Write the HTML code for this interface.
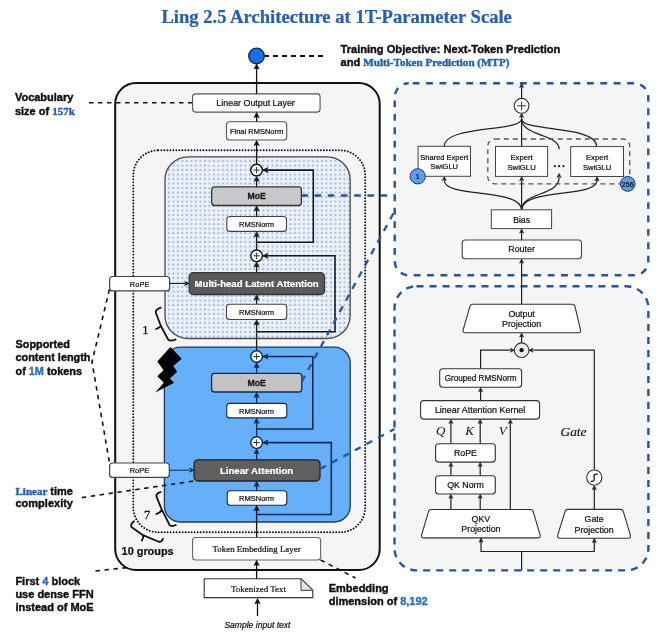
<!DOCTYPE html><html><head><meta charset="utf-8"><style>html,body{margin:0;padding:0;background:#fff;}svg{display:block;will-change:transform;}</style></head><body>
<svg width="660" height="638" viewBox="0 0 660 638">
<defs><pattern id="dots" x="168.9" y="161.1" width="4.5" height="4.5" patternUnits="userSpaceOnUse"><rect width="4.5" height="4.5" fill="#e8f1fc"/><circle cx="0" cy="0" r="1.05" fill="#a6b5cd"/><circle cx="4.5" cy="0" r="1.05" fill="#a6b5cd"/><circle cx="0" cy="4.5" r="1.05" fill="#a6b5cd"/><circle cx="4.5" cy="4.5" r="1.05" fill="#a6b5cd"/></pattern></defs>
<style>text{stroke-width:0.22px;stroke-linejoin:round} text.an{stroke-width:0.42px}</style>
<rect width="660" height="638" fill="#fff"/>
<text x="161.4" y="23" font-family='"Liberation Serif", serif' font-size="18.6" font-weight="bold" font-style="normal" fill="#2360ae" stroke="#2360ae" text-anchor="start" >Ling 2.5 Architecture at 1T-Parameter Scale</text>
<line x1="264" y1="56" x2="323" y2="56" stroke="#111" stroke-width="2" stroke-dasharray="5 4"/>
<circle cx="256.5" cy="56" r="7.8" fill="#1a6fe3" stroke="#0b2450" stroke-width="1.3"/>
<text x="340.5" y="52.5" font-family='"Liberation Sans", sans-serif' font-size="11.1" class="an" font-weight="bold" fill="#111" stroke="#111">Training Objective: Next-Token Prediction</text>
<text x="340.5" y="66" font-family='"Liberation Sans", sans-serif' font-size="11.1" class="an" font-weight="bold" fill="#111" stroke="#111">and <tspan font-family='"Liberation Serif", serif' fill="#2360ae" stroke="#2360ae">Multi-Token Prediction (MTP)</tspan></text>
<rect x="115.2" y="83" width="264.50" height="487.00" rx="21" fill="#f5f5f5" stroke="#111" stroke-width="2" />
<rect x="394.7" y="83.2" width="253.60" height="192.10" rx="14" fill="#f5f5f5" stroke="#25559c" stroke-width="2.4" stroke-dasharray="6.8 6.6" stroke-dashoffset="-4"/>
<rect x="394.5" y="286.2" width="253.90" height="284.20" rx="22" fill="#f5f5f5" stroke="#25559c" stroke-width="2.4" stroke-dasharray="7 6"/>
<text x="14.9" y="100.9" font-family='"Liberation Sans", sans-serif' font-size="11" class="an" font-weight="bold" fill="#111" stroke="#111">Vocabulary</text>
<text x="14.9" y="114.5" font-family='"Liberation Sans", sans-serif' font-size="11" class="an" font-weight="bold" fill="#111" stroke="#111">size of <tspan font-family='"Liberation Serif", serif' fill="#2360ae" stroke="#2360ae">157k</tspan></text>
<line x1="89" y1="102.7" x2="192.6" y2="102.7" stroke="#111" stroke-width="1.6" stroke-dasharray="4.5 4.5"/>
<text x="15.5" y="348.2" font-family='"Liberation Sans", sans-serif' font-size="10.9" class="an" font-weight="bold" fill="#111" stroke="#111">Sopported</text>
<text x="15.5" y="361.3" font-family='"Liberation Sans", sans-serif' font-size="10.9" class="an" font-weight="bold" fill="#111" stroke="#111">content length</text>
<text x="15.5" y="374.5" font-family='"Liberation Sans", sans-serif' font-size="10.9" class="an" font-weight="bold" fill="#111" stroke="#111">of <tspan fill="#2d72c2" stroke="#2d72c2">1M</tspan> tokens</text>
<text x="15.5" y="494.5" font-family='"Liberation Sans", sans-serif' font-size="11" class="an" font-weight="bold" fill="#111" stroke="#111"><tspan font-family='"Liberation Serif", serif' fill="#2360ae" stroke="#2360ae">Linear</tspan> time</text>
<text x="15.5" y="507.3" font-family='"Liberation Sans", sans-serif' font-size="11" class="an" font-weight="bold" fill="#111" stroke="#111">complexity</text>
<text x="15.4" y="584.5" font-family='"Liberation Sans", sans-serif' font-size="11" class="an" font-weight="bold" fill="#111" stroke="#111">First <tspan fill="#2d72c2" stroke="#2d72c2">4</tspan> block</text>
<text x="15.4" y="597.9" font-family='"Liberation Sans", sans-serif' font-size="11" class="an" font-weight="bold" fill="#111" stroke="#111">use dense FFN</text>
<text x="15.4" y="610.7" font-family='"Liberation Sans", sans-serif' font-size="11" class="an" font-weight="bold" fill="#111" stroke="#111">instead of MoE</text>
<text x="328.7" y="591.8" font-family='"Liberation Sans", sans-serif' font-size="11" class="an" font-weight="bold" fill="#111" stroke="#111">Embedding</text>
<text x="328.7" y="604.5" font-family='"Liberation Sans", sans-serif' font-size="11" class="an" font-weight="bold" fill="#111" stroke="#111">dimension of <tspan fill="#2d72c2" stroke="#2d72c2">8,192</tspan></text>
<rect x="133.3" y="150.3" width="231.90" height="382.00" rx="25" fill="none" stroke="#111" stroke-width="1.9" stroke-dasharray="0.01 3" stroke-linecap="round"/>
<rect x="165" y="156.8" width="185.20" height="181.70" rx="23" fill="url(#dots)" stroke="#4a4a4a" stroke-width="1.3" />
<rect x="164.4" y="347.1" width="185.80" height="174.90" rx="16" fill="#66b0fa" stroke="#1d3a66" stroke-width="1.3" />
<rect x="192.6" y="93.9" width="127.50" height="18.20" rx="3" fill="#fff" stroke="#555" stroke-width="1.1" />
<text x="255.6" y="106" font-family='"Liberation Sans", sans-serif' font-size="8.9" font-weight="normal" font-style="normal" fill="#111" stroke="#111" text-anchor="middle" >Linear Output Layer</text>
<rect x="226.5" y="121.8" width="60.20" height="18.20" rx="3" fill="#fff" stroke="#555" stroke-width="1.1" />
<text x="256.6" y="134" font-family='"Liberation Sans", sans-serif' font-size="7.5" font-weight="normal" font-style="normal" fill="#111" stroke="#111" text-anchor="middle" >Final RMSNorm</text>
<line x1="256.6" y1="93.9" x2="256.6" y2="67.53999999999999" stroke="#111" stroke-width="1.3"/>
<polygon points="256.6,63.9 254.00000000000003,69.1 256.6,68.06 259.20000000000005,69.1" fill="#111" stroke="#111" stroke-width="0.6" stroke-linejoin="miter"/>
<line x1="256.6" y1="121.8" x2="256.6" y2="116.04" stroke="#111" stroke-width="1.3"/>
<polygon points="256.6,112.4 254.00000000000003,117.60000000000001 256.6,116.56 259.20000000000005,117.60000000000001" fill="#111" stroke="#111" stroke-width="0.6" stroke-linejoin="miter"/>
<line x1="256.6" y1="164.1" x2="256.6" y2="144.04" stroke="#111" stroke-width="1.3"/>
<polygon points="256.6,140.4 254.00000000000003,145.6 256.6,144.56 259.20000000000005,145.6" fill="#111" stroke="#111" stroke-width="0.6" stroke-linejoin="miter"/>
<rect x="211.7" y="186.8" width="89.70" height="18.70" rx="3" fill="#c9c9c9" stroke="#333" stroke-width="1.3" />
<text x="256.6" y="199.4" font-family='"Liberation Sans", sans-serif' font-size="8.7" font-weight="bold" font-style="normal" fill="#1a1a1a" stroke="#1a1a1a" text-anchor="middle" style="stroke-width:0.3px">MoE</text>
<rect x="226.8" y="216.5" width="59.70" height="14.90" rx="3" fill="#fff" stroke="#444" stroke-width="1.1" />
<text x="256.6" y="226.8" font-family='"Liberation Sans", sans-serif' font-size="7.5" font-weight="normal" font-style="normal" fill="#111" stroke="#111" text-anchor="middle" >RMSNorm</text>
<circle cx="256.6" cy="170.1" r="5.8" fill="#fff" stroke="#111" stroke-width="1.4"/>
<line x1="253.40000000000003" y1="170.1" x2="259.8" y2="170.1" stroke="#333" stroke-width="1.0"/>
<line x1="256.6" y1="166.9" x2="256.6" y2="173.29999999999998" stroke="#333" stroke-width="1.0"/>
<line x1="256.6" y1="186.8" x2="256.6" y2="179.83999999999997" stroke="#1a1a1a" stroke-width="1.3"/>
<polygon points="256.6,176.2 254.00000000000003,181.39999999999998 256.6,180.35999999999999 259.20000000000005,181.39999999999998" fill="#1a1a1a" stroke="#1a1a1a" stroke-width="0.6" stroke-linejoin="miter"/>
<line x1="256.6" y1="216.5" x2="256.6" y2="209.44" stroke="#1a1a1a" stroke-width="1.3"/>
<polygon points="256.6,205.8 254.00000000000003,211.0 256.6,209.96 259.20000000000005,211.0" fill="#1a1a1a" stroke="#1a1a1a" stroke-width="0.6" stroke-linejoin="miter"/>
<line x1="256.6" y1="249.9" x2="256.6" y2="235.33999999999997" stroke="#1a1a1a" stroke-width="1.3"/>
<polygon points="256.6,231.7 254.00000000000003,236.89999999999998 256.6,235.85999999999999 259.20000000000005,236.89999999999998" fill="#1a1a1a" stroke="#1a1a1a" stroke-width="0.6" stroke-linejoin="miter"/>
<path d="M256.6,242.3 L313.3,242.3 L313.3,170.1 L262.90000000000003,170.1" stroke="#1a1a1a" stroke-width="1.6" fill="none" />
<polygon points="262.70000000000005,170.1 267.90000000000003,167.5 266.86000000000007,170.1 267.90000000000003,172.7" fill="#1a1a1a" stroke="#1a1a1a" stroke-width="0.6" stroke-linejoin="miter"/>
<rect x="189.2" y="272.7" width="135.30" height="21.80" rx="4" fill="#5a5a5a" stroke="#333" stroke-width="1.3" />
<text x="256.6" y="287.1" font-family='"Liberation Sans", sans-serif' font-size="9.65" font-weight="bold" font-style="normal" fill="#fff" stroke="#fff" text-anchor="middle" >Multi-head Latent Attention</text>
<rect x="226.5" y="304.2" width="60.20" height="15.30" rx="3" fill="#fff" stroke="#444" stroke-width="1.1" />
<text x="256.6" y="314.6" font-family='"Liberation Sans", sans-serif' font-size="7.5" font-weight="normal" font-style="normal" fill="#111" stroke="#111" text-anchor="middle" >RMSNorm</text>
<circle cx="256.6" cy="255.8" r="5.8" fill="#fff" stroke="#111" stroke-width="1.4"/>
<line x1="253.40000000000003" y1="255.8" x2="259.8" y2="255.8" stroke="#333" stroke-width="1.0"/>
<line x1="256.6" y1="252.60000000000002" x2="256.6" y2="259.0" stroke="#333" stroke-width="1.0"/>
<line x1="256.6" y1="272.7" x2="256.6" y2="265.53999999999996" stroke="#1a1a1a" stroke-width="1.3"/>
<polygon points="256.6,261.9 254.00000000000003,267.09999999999997 256.6,266.06 259.20000000000005,267.09999999999997" fill="#1a1a1a" stroke="#1a1a1a" stroke-width="0.6" stroke-linejoin="miter"/>
<line x1="256.6" y1="304.2" x2="256.6" y2="298.44" stroke="#1a1a1a" stroke-width="1.3"/>
<polygon points="256.6,294.8 254.00000000000003,300.0 256.6,298.96000000000004 259.20000000000005,300.0" fill="#1a1a1a" stroke="#1a1a1a" stroke-width="0.6" stroke-linejoin="miter"/>
<line x1="256.6" y1="350.3" x2="256.6" y2="323.44" stroke="#1a1a1a" stroke-width="1.3"/>
<polygon points="256.6,319.8 254.00000000000003,325.0 256.6,323.96000000000004 259.20000000000005,325.0" fill="#1a1a1a" stroke="#1a1a1a" stroke-width="0.6" stroke-linejoin="miter"/>
<path d="M256.6,331.7 L335,331.7 L335,255.8 L262.90000000000003,255.8" stroke="#1a1a1a" stroke-width="1.6" fill="none" />
<polygon points="262.70000000000005,255.8 267.90000000000003,253.20000000000002 266.86000000000007,255.8 267.90000000000003,258.40000000000003" fill="#1a1a1a" stroke="#1a1a1a" stroke-width="0.6" stroke-linejoin="miter"/>
<rect x="109.6" y="276.5" width="60.00" height="14.40" rx="3" fill="#fff" stroke="#444" stroke-width="1.2" />
<text x="139.6" y="286.5" font-family='"Liberation Sans", sans-serif' font-size="7.5" font-weight="normal" font-style="normal" fill="#111" stroke="#111" text-anchor="middle" >RoPE</text>
<line x1="169.6" y1="283.5" x2="185" y2="283.5" stroke="#1a1a1a" stroke-width="1"/>
<polygon points="189.2,283.5 184.7,281.4 185.6,283.5 184.7,285.6" fill="#1a1a1a" stroke="#1a1a1a" stroke-width="0.6" stroke-linejoin="miter"/>
<rect x="211.6" y="373.3" width="90.20" height="18.70" rx="3" fill="#c6c2c1" stroke="#0e2a52" stroke-width="1.3" />
<text x="256.6" y="386" font-family='"Liberation Sans", sans-serif' font-size="8.7" font-weight="bold" font-style="normal" fill="#1a1a1a" stroke="#1a1a1a" text-anchor="middle" style="stroke-width:0.3px">MoE</text>
<rect x="226.7" y="403.4" width="60.10" height="14.50" rx="3" fill="#fff" stroke="#0e2a52" stroke-width="1.1" />
<text x="256.6" y="413.6" font-family='"Liberation Sans", sans-serif' font-size="7.5" font-weight="normal" font-style="normal" fill="#111" stroke="#111" text-anchor="middle" >RMSNorm</text>
<circle cx="256.6" cy="356.5" r="5.8" fill="#fff" stroke="#0e2a52" stroke-width="1.4"/>
<line x1="253.40000000000003" y1="356.5" x2="259.8" y2="356.5" stroke="#333" stroke-width="1.0"/>
<line x1="256.6" y1="353.3" x2="256.6" y2="359.7" stroke="#333" stroke-width="1.0"/>
<line x1="256.6" y1="373.3" x2="256.6" y2="366.24" stroke="#0e2a52" stroke-width="1.3"/>
<polygon points="256.6,362.6 254.00000000000003,367.8 256.6,366.76000000000005 259.20000000000005,367.8" fill="#0e2a52" stroke="#0e2a52" stroke-width="0.6" stroke-linejoin="miter"/>
<line x1="256.6" y1="403.4" x2="256.6" y2="395.94" stroke="#0e2a52" stroke-width="1.3"/>
<polygon points="256.6,392.3 254.00000000000003,397.5 256.6,396.46000000000004 259.20000000000005,397.5" fill="#0e2a52" stroke="#0e2a52" stroke-width="0.6" stroke-linejoin="miter"/>
<line x1="256.6" y1="436.5" x2="256.6" y2="421.84" stroke="#0e2a52" stroke-width="1.3"/>
<polygon points="256.6,418.2 254.00000000000003,423.4 256.6,422.36 259.20000000000005,423.4" fill="#0e2a52" stroke="#0e2a52" stroke-width="0.6" stroke-linejoin="miter"/>
<path d="M256.6,429 L312.8,429 L312.8,356.5 L262.90000000000003,356.5" stroke="#0e2a52" stroke-width="1.6" fill="none" />
<polygon points="262.70000000000005,356.5 267.90000000000003,353.9 266.86000000000007,356.5 267.90000000000003,359.1" fill="#0e2a52" stroke="#0e2a52" stroke-width="0.6" stroke-linejoin="miter"/>
<rect x="194.1" y="459.8" width="125.90" height="21.20" rx="4" fill="#5f5f5f" stroke="#222" stroke-width="1.3" />
<text x="256.6" y="474" font-family='"Liberation Sans", sans-serif' font-size="9.6" font-weight="bold" font-style="normal" fill="#fff" stroke="#fff" text-anchor="middle" >Linear Attention</text>
<rect x="227.2" y="490.8" width="59.60" height="14.50" rx="3" fill="#fff" stroke="#0e2a52" stroke-width="1.1" />
<text x="256.6" y="501" font-family='"Liberation Sans", sans-serif' font-size="7.5" font-weight="normal" font-style="normal" fill="#111" stroke="#111" text-anchor="middle" >RMSNorm</text>
<circle cx="256.6" cy="442.6" r="5.8" fill="#fff" stroke="#0e2a52" stroke-width="1.4"/>
<line x1="253.40000000000003" y1="442.6" x2="259.8" y2="442.6" stroke="#333" stroke-width="1.0"/>
<line x1="256.6" y1="439.40000000000003" x2="256.6" y2="445.8" stroke="#333" stroke-width="1.0"/>
<line x1="256.6" y1="459.8" x2="256.6" y2="452.34" stroke="#0e2a52" stroke-width="1.3"/>
<polygon points="256.6,448.7 254.00000000000003,453.9 256.6,452.86 259.20000000000005,453.9" fill="#0e2a52" stroke="#0e2a52" stroke-width="0.6" stroke-linejoin="miter"/>
<line x1="256.6" y1="490.8" x2="256.6" y2="484.94" stroke="#0e2a52" stroke-width="1.3"/>
<polygon points="256.6,481.3 254.00000000000003,486.5 256.6,485.46000000000004 259.20000000000005,486.5" fill="#0e2a52" stroke="#0e2a52" stroke-width="0.6" stroke-linejoin="miter"/>
<line x1="256.6" y1="537.5" x2="256.6" y2="509.24" stroke="#111" stroke-width="1.3"/>
<polygon points="256.6,505.6 254.00000000000003,510.8 256.6,509.76000000000005 259.20000000000005,510.8" fill="#111" stroke="#111" stroke-width="0.6" stroke-linejoin="miter"/>
<path d="M256.6,514.5 L331.3,514.5 L331.3,442.6 L262.90000000000003,442.6" stroke="#0e2a52" stroke-width="1.6" fill="none" />
<polygon points="262.70000000000005,442.6 267.90000000000003,440.0 266.86000000000007,442.6 267.90000000000003,445.20000000000005" fill="#0e2a52" stroke="#0e2a52" stroke-width="0.6" stroke-linejoin="miter"/>
<rect x="109.6" y="463" width="59.70" height="14.40" rx="3" fill="#fff" stroke="#444" stroke-width="1.2" />
<text x="139.5" y="473" font-family='"Liberation Sans", sans-serif' font-size="7.5" font-weight="normal" font-style="normal" fill="#111" stroke="#111" text-anchor="middle" >RoPE</text>
<line x1="169.3" y1="470.2" x2="189" y2="470.2" stroke="#0e2a52" stroke-width="1"/>
<polygon points="194,470.2 189.5,468.09999999999997 190.4,470.2 189.5,472.3" fill="#0e2a52" stroke="#0e2a52" stroke-width="0.6" stroke-linejoin="miter"/>
<rect x="192.6" y="537.5" width="128.00" height="22.50" rx="3" fill="#fff" stroke="#666" stroke-width="1.1" />
<text x="256.6" y="552" font-family='"Liberation Serif", serif' font-size="8.9" font-weight="normal" font-style="normal" fill="#111" stroke="#111" text-anchor="middle" >Token Embedding Layer</text>
<path d="M204.2,578.7 L301,578.7 L312.8,590.3 L312.8,597.6 L204.2,597.6 Z" stroke="#333" stroke-width="1.1" fill="#fff" />
<path d="M301,578.7 L301,590.3 L312.8,590.3 Z" stroke="#333" stroke-width="1.0" fill="#e6e6e6" />
<text x="258.5" y="592" font-family='"Liberation Serif", serif' font-size="8.95" font-weight="normal" font-style="normal" fill="#111" stroke="#111" text-anchor="middle" >Tokenized Text</text>
<line x1="256.6" y1="578.7" x2="256.6" y2="563.9399999999999" stroke="#111" stroke-width="1.3"/>
<polygon points="256.6,560.3 254.00000000000003,565.5 256.6,564.4599999999999 259.20000000000005,565.5" fill="#111" stroke="#111" stroke-width="0.6" stroke-linejoin="miter"/>
<line x1="257.5" y1="616" x2="257.5" y2="602.14" stroke="#111" stroke-width="1.3"/>
<polygon points="257.5,598.5 254.9,603.7 257.5,602.66 260.1,603.7" fill="#111" stroke="#111" stroke-width="0.6" stroke-linejoin="miter"/>
<text x="257.4" y="627.9" font-family='"Liberation Sans", sans-serif' font-size="8.55" font-weight="normal" font-style="italic" fill="#111" stroke="#111" text-anchor="middle" >Sample input text</text>
<polygon points="170.4,347.1 181.7,358.8 173.3,365.9 177.2,371.7 169.8,378.6 174.1,382.7 155.3,392.4 163.8,382.7 157.3,376.2 163.6,370.2 157.3,361.6" fill="#000"/>
<path d="M160.8,307.7 Q155.2,309.6 155.8,312.8 L160.8,325.8 Q160.2,327.6 156,329 M160.8,325.8 L168.2,339.6 Q170.2,341.8 175.6,339.5" stroke="#111" stroke-width="1.8" fill="none" stroke-linecap="round" stroke-linejoin="round"/>
<text x="145.3" y="333.7" font-family='"Liberation Serif", serif' font-size="12.5" font-weight="normal" font-style="normal" fill="#111" stroke="#111" text-anchor="middle" style="stroke-width:0.25px">1</text>
<path d="M160.6,492.1 Q155.8,493.6 156.4,496.4 L161.8,509.7 Q161.2,511.8 156.4,514 M161.8,509.7 L169.6,525 Q171.4,527 175.8,525" stroke="#111" stroke-width="1.8" fill="none" stroke-linecap="round" stroke-linejoin="round"/>
<text x="147" y="518.8" font-family='"Liberation Serif", serif' font-size="12.5" font-weight="normal" font-style="normal" fill="#111" stroke="#111" text-anchor="middle" style="stroke-width:0.3px">7</text>
<path d="M133.9,521.2 Q130.2,524.2 131.4,527 L143,535.2 Q143.8,537.5 141.8,540.6 M143,535.2 L159.4,542 Q161.8,542 163,538.8" stroke="#111" stroke-width="1.8" fill="none" stroke-linecap="round" stroke-linejoin="round"/>
<text x="121.6" y="554.5" font-family='"Liberation Sans", sans-serif' font-size="10.9" font-weight="bold" font-style="normal" fill="#111" stroke="#111" text-anchor="start" >10 groups</text>
<line x1="301.4" y1="195.5" x2="394.7" y2="195.5" stroke="#25559c" stroke-width="2.3" stroke-dasharray="6.6 6.6"/>
<line x1="301.8" y1="381.6" x2="394.7" y2="211" stroke="#25559c" stroke-width="2.3" stroke-dasharray="6.6 6.6"/>
<line x1="320" y1="469" x2="394.5" y2="429" stroke="#25559c" stroke-width="2.3" stroke-dasharray="6.6 6.6"/>
<path d="M444.3,146.3 C444.3,125 521.6,132 521.6,119" stroke="#222" stroke-width="1.2" fill="none" />
<path d="M596.7,146.6 C596.7,125 521.6,132 521.6,119" stroke="#222" stroke-width="1.2" fill="none" />
<path d="M559.2,149.2 C559.2,134 521.6,136 521.6,119" stroke="#222" stroke-width="1.2" fill="none" />
<line x1="521.6" y1="146.4" x2="521.6" y2="117" stroke="#222" stroke-width="1.2"/>
<polygon points="521.6,113.3 519.6,117.3 521.6,116.5 523.6,117.3" fill="#222" stroke="#222" stroke-width="0.6" stroke-linejoin="miter"/>
<circle cx="521.6" cy="105.8" r="7.4" fill="#fff" stroke="#333" stroke-width="1.1"/>
<line x1="517.2" y1="105.8" x2="526.0" y2="105.8" stroke="#333" stroke-width="1.0"/>
<line x1="521.6" y1="101.39999999999999" x2="521.6" y2="110.2" stroke="#333" stroke-width="1.0"/>
<line x1="521.6" y1="98.4" x2="521.6" y2="87" stroke="#222" stroke-width="1.2"/>
<polygon points="521.6,83.4 519.6,87.4 521.6,86.60000000000001 523.6,87.4" fill="#222" stroke="#222" stroke-width="0.6" stroke-linejoin="miter"/>
<rect x="487.8" y="139" width="141.90" height="44.90" rx="7" fill="none" stroke="#555" stroke-width="1.3" stroke-dasharray="5 4"/>
<rect x="418.1" y="146.3" width="52.40" height="30.00" rx="0" fill="#fff" stroke="#444" stroke-width="1.0" />
<text x="444.3" y="160" font-family='"Liberation Sans", sans-serif' font-size="7.5" font-weight="normal" font-style="normal" fill="#111" stroke="#111" text-anchor="middle" >Shared Expert</text>
<text x="444.3" y="169.2" font-family='"Liberation Sans", sans-serif' font-size="7.5" font-weight="normal" font-style="normal" fill="#111" stroke="#111" text-anchor="middle" >SwiGLU</text>
<rect x="495.5" y="146.4" width="52.10" height="30.00" rx="0" fill="#fff" stroke="#444" stroke-width="1.0" />
<text x="521.6" y="160.4" font-family='"Liberation Sans", sans-serif' font-size="7.7" font-weight="normal" font-style="normal" fill="#111" stroke="#111" text-anchor="middle" >Expert</text>
<text x="521.6" y="169.6" font-family='"Liberation Sans", sans-serif' font-size="7.7" font-weight="normal" font-style="normal" fill="#111" stroke="#111" text-anchor="middle" >SwiGLU</text>
<rect x="570.7" y="146.6" width="52.80" height="29.90" rx="0" fill="#fff" stroke="#444" stroke-width="1.0" />
<text x="597.1" y="160.4" font-family='"Liberation Sans", sans-serif' font-size="7.7" font-weight="normal" font-style="normal" fill="#111" stroke="#111" text-anchor="middle" >Expert</text>
<text x="597.1" y="169.6" font-family='"Liberation Sans", sans-serif' font-size="7.7" font-weight="normal" font-style="normal" fill="#111" stroke="#111" text-anchor="middle" >SwiGLU</text>
<circle cx="554.8" cy="166.2" r="1.1" fill="#222"/>
<circle cx="559.1" cy="166.2" r="1.1" fill="#222"/>
<circle cx="563.4" cy="166.2" r="1.1" fill="#222"/>
<circle cx="417.7" cy="176.3" r="7.6" fill="#5ba0e8" stroke="#1a3766" stroke-width="1"/>
<text x="417.7" y="179" font-family='"Liberation Sans", sans-serif' font-size="7" font-weight="normal" font-style="normal" fill="#111" stroke="#111" text-anchor="middle" >1</text>
<circle cx="627.7" cy="183.9" r="7.4" fill="#5ba0e8" stroke="#1a3766" stroke-width="1"/>
<text x="627.7" y="186.6" font-family='"Liberation Sans", sans-serif' font-size="7" font-weight="normal" font-style="normal" fill="#111" stroke="#111" text-anchor="middle" >256</text>
<path d="M521.6,209.8 C521.6,188 444.3,198 444.3,180.5" stroke="#222" stroke-width="1.2" fill="none" />
<polygon points="444.3,176.6 442.3,180.6 444.3,179.79999999999998 446.3,180.6" fill="#222" stroke="#222" stroke-width="0.6" stroke-linejoin="miter"/>
<path d="M521.6,209.8 C521.6,192 559.1,196 559.1,177.5" stroke="#222" stroke-width="1.2" fill="none" />
<polygon points="559.1,173.4 557.1,177.4 559.1,176.6 561.1,177.4" fill="#222" stroke="#222" stroke-width="0.6" stroke-linejoin="miter"/>
<path d="M521.6,209.8 C521.6,188 597,198 597,180.5" stroke="#222" stroke-width="1.2" fill="none" />
<polygon points="597,176.8 595.0,180.8 597,180.0 599.0,180.8" fill="#222" stroke="#222" stroke-width="0.6" stroke-linejoin="miter"/>
<line x1="521.6" y1="209.8" x2="521.6" y2="180.5" stroke="#222" stroke-width="1.2"/>
<polygon points="521.6,176.7 519.6,180.7 521.6,179.89999999999998 523.6,180.7" fill="#222" stroke="#222" stroke-width="0.6" stroke-linejoin="miter"/>
<rect x="491.3" y="209.8" width="60.30" height="18.80" rx="0" fill="#fff" stroke="#444" stroke-width="1.0" />
<text x="521.6" y="222.7" font-family='"Liberation Sans", sans-serif' font-size="8.7" font-weight="normal" font-style="normal" fill="#111" stroke="#111" text-anchor="middle" >Bias</text>
<rect x="462.2" y="240" width="119.30" height="18.80" rx="3" fill="#fff" stroke="#444" stroke-width="1.1" />
<text x="521.6" y="252.3" font-family='"Liberation Sans", sans-serif' font-size="8.9" font-weight="normal" font-style="normal" fill="#111" stroke="#111" text-anchor="middle" >Router</text>
<line x1="521.6" y1="240" x2="521.6" y2="231.70000000000002" stroke="#222" stroke-width="1.2"/>
<polygon points="521.6,228.9 519.6,232.9 521.6,232.1 523.6,232.9" fill="#222" stroke="#222" stroke-width="0.6" stroke-linejoin="miter"/>
<line x1="521.6" y1="304.2" x2="521.6" y2="261.90000000000003" stroke="#222" stroke-width="1.2"/>
<polygon points="521.6,259.1 519.6,263.1 521.6,262.3 523.6,263.1" fill="#222" stroke="#222" stroke-width="0.6" stroke-linejoin="miter"/>
<path d="M472.8,304.2 L572.1,304.2 Q574.6,304.2 575.0,306.7 L580.5999999999999,330.3 Q580.8,332.8 578.3,332.8 L465.3,332.8 Q462.8,332.8 463.0,330.3 L469.90000000000003,306.7 Q470.3,304.2 472.8,304.2 Z" fill="#fff" stroke="#333" stroke-width="1.1"/>
<text x="521.6" y="316.6" font-family='"Liberation Sans", sans-serif' font-size="8.8" font-weight="normal" font-style="normal" fill="#111" stroke="#111" text-anchor="middle" >Output</text>
<text x="521.6" y="326.8" font-family='"Liberation Sans", sans-serif' font-size="8.8" font-weight="normal" font-style="normal" fill="#111" stroke="#111" text-anchor="middle" >Projection</text>
<circle cx="521.6" cy="350.2" r="7.3" fill="#eaeaea" stroke="#333" stroke-width="1.1"/>
<circle cx="521.6" cy="350.2" r="2.1" fill="#111"/>
<line x1="521.6" y1="342.9" x2="521.6" y2="335.90000000000003" stroke="#222" stroke-width="1.2"/>
<polygon points="521.6,333.1 519.6,337.1 521.6,336.3 523.6,337.1" fill="#222" stroke="#222" stroke-width="0.6" stroke-linejoin="miter"/>
<path d="M480.6,368.8 L480.6,350.2 L510,350.2" stroke="#222" stroke-width="1.2" fill="none" />
<polygon points="514.3,350.2 510.29999999999995,348.2 511.09999999999997,350.2 510.29999999999995,352.2" fill="#222" stroke="#222" stroke-width="0.6" stroke-linejoin="miter"/>
<path d="M594.3,469.8 L594.3,350.2 L533.2,350.2" stroke="#222" stroke-width="1.2" fill="none" />
<polygon points="528.9,350.2 532.9,348.2 532.1,350.2 532.9,352.2" fill="#222" stroke="#222" stroke-width="0.6" stroke-linejoin="miter"/>
<rect x="439.7" y="368.8" width="81.90" height="18.50" rx="3" fill="#fff" stroke="#333" stroke-width="1.1" />
<text x="480.6" y="381" font-family='"Liberation Sans", sans-serif' font-size="8.15" font-weight="normal" font-style="normal" fill="#111" stroke="#111" text-anchor="middle" >Grouped RMSNorm</text>
<line x1="480.6" y1="400.6" x2="480.6" y2="390.40000000000003" stroke="#222" stroke-width="1.2"/>
<polygon points="480.6,387.6 478.6,391.6 480.6,390.8 482.6,391.6" fill="#222" stroke="#222" stroke-width="0.6" stroke-linejoin="miter"/>
<rect x="420.6" y="400.6" width="119.00" height="18.50" rx="3" fill="#fff" stroke="#333" stroke-width="1.1" />
<text x="480.1" y="412.7" font-family='"Liberation Sans", sans-serif' font-size="8.95" font-weight="normal" font-style="normal" fill="#111" stroke="#111" text-anchor="middle" >Linear Attention Kernel</text>
<text x="440.8" y="435.2" font-family='"Liberation Serif", serif' font-size="13" font-weight="normal" font-style="italic" fill="#111" stroke="#111" text-anchor="middle" style="stroke-width:0">Q</text>
<text x="469.5" y="435.2" font-family='"Liberation Serif", serif' font-size="13" font-weight="normal" font-style="italic" fill="#111" stroke="#111" text-anchor="middle" style="stroke-width:0">K</text>
<text x="502.8" y="435.2" font-family='"Liberation Serif", serif' font-size="13" font-weight="normal" font-style="italic" fill="#111" stroke="#111" text-anchor="middle" style="stroke-width:0">V</text>
<line x1="450.9" y1="443.8" x2="450.9" y2="422.2" stroke="#222" stroke-width="1.2"/>
<polygon points="450.9,419.4 448.9,423.4 450.9,422.59999999999997 452.9,423.4" fill="#222" stroke="#222" stroke-width="0.6" stroke-linejoin="miter"/>
<line x1="480.2" y1="443.8" x2="480.2" y2="422.2" stroke="#222" stroke-width="1.2"/>
<polygon points="480.2,419.4 478.2,423.4 480.2,422.59999999999997 482.2,423.4" fill="#222" stroke="#222" stroke-width="0.6" stroke-linejoin="miter"/>
<line x1="510.3" y1="509.5" x2="510.3" y2="422.2" stroke="#222" stroke-width="1.2"/>
<polygon points="510.3,419.4 508.3,423.4 510.3,422.59999999999997 512.3,423.4" fill="#222" stroke="#222" stroke-width="0.6" stroke-linejoin="miter"/>
<rect x="435.6" y="443.8" width="59.70" height="18.30" rx="3" fill="#fff" stroke="#333" stroke-width="1.1" />
<text x="465.5" y="456.2" font-family='"Liberation Sans", sans-serif' font-size="8.8" font-weight="normal" font-style="normal" fill="#111" stroke="#111" text-anchor="middle" >RoPE</text>
<line x1="450.9" y1="475.7" x2="450.9" y2="465.2" stroke="#222" stroke-width="1.2"/>
<polygon points="450.9,462.4 448.9,466.4 450.9,465.59999999999997 452.9,466.4" fill="#222" stroke="#222" stroke-width="0.6" stroke-linejoin="miter"/>
<line x1="480.2" y1="475.7" x2="480.2" y2="465.2" stroke="#222" stroke-width="1.2"/>
<polygon points="480.2,462.4 478.2,466.4 480.2,465.59999999999997 482.2,466.4" fill="#222" stroke="#222" stroke-width="0.6" stroke-linejoin="miter"/>
<rect x="435.6" y="475.7" width="59.70" height="18.30" rx="3" fill="#fff" stroke="#333" stroke-width="1.1" />
<text x="465.5" y="488.2" font-family='"Liberation Sans", sans-serif' font-size="8.8" font-weight="normal" font-style="normal" fill="#111" stroke="#111" text-anchor="middle" >QK Norm</text>
<line x1="450.9" y1="509.5" x2="450.9" y2="497.1" stroke="#222" stroke-width="1.2"/>
<polygon points="450.9,494.3 448.9,498.3 450.9,497.5 452.9,498.3" fill="#222" stroke="#222" stroke-width="0.6" stroke-linejoin="miter"/>
<line x1="480.2" y1="509.5" x2="480.2" y2="497.1" stroke="#222" stroke-width="1.2"/>
<polygon points="480.2,494.3 478.2,498.3 480.2,497.5 482.2,498.3" fill="#222" stroke="#222" stroke-width="0.6" stroke-linejoin="miter"/>
<path d="M431.3,509.5 L530.4,509.5 Q532.9,509.5 533.3,512.0 L540.1999999999999,535.4 Q540.4,537.9 537.9,537.9 L423.8,537.9 Q421.3,537.9 421.5,535.4 L428.40000000000003,512.0 Q428.8,509.5 431.3,509.5 Z" fill="#fff" stroke="#333" stroke-width="1.1"/>
<text x="480.9" y="521.7" font-family='"Liberation Sans", sans-serif' font-size="8.8" font-weight="normal" font-style="normal" fill="#111" stroke="#111" text-anchor="middle" >QKV</text>
<text x="480.9" y="532.2" font-family='"Liberation Sans", sans-serif' font-size="8.8" font-weight="normal" font-style="normal" fill="#111" stroke="#111" text-anchor="middle" >Projection</text>
<path d="M567.8,509.4 L620.5,509.4 Q623,509.4 623.4,511.9 L630.5,535.7 Q630.7,538.2 628.2,538.2 L559.9,538.2 Q557.4,538.2 557.6,535.7 L564.9,511.9 Q565.3,509.4 567.8,509.4 Z" fill="#fff" stroke="#333" stroke-width="1.1"/>
<text x="594.1" y="521.8" font-family='"Liberation Sans", sans-serif' font-size="8.8" font-weight="normal" font-style="normal" fill="#111" stroke="#111" text-anchor="middle" >Gate</text>
<text x="594.1" y="532.5" font-family='"Liberation Sans", sans-serif' font-size="8.8" font-weight="normal" font-style="normal" fill="#111" stroke="#111" text-anchor="middle" >Projection</text>
<path d="M481,538 L481,551.5 L594.3,551.5 L594.3,538.5" stroke="#222" stroke-width="1.2" fill="none" />
<line x1="521.6" y1="551.5" x2="521.6" y2="570.4" stroke="#222" stroke-width="1.2"/>
<polygon points="481,538.2 479.0,542.2 481,541.4000000000001 483.0,542.2" fill="#222" stroke="#222" stroke-width="0.6" stroke-linejoin="miter"/>
<polygon points="594.3,538.5 592.3,542.5 594.3,541.7 596.3,542.5" fill="#222" stroke="#222" stroke-width="0.6" stroke-linejoin="miter"/>
<line x1="594.3" y1="509.4" x2="594.3" y2="488.40000000000003" stroke="#222" stroke-width="1.2"/>
<polygon points="594.3,485.6 592.3,489.6 594.3,488.8 596.3,489.6" fill="#222" stroke="#222" stroke-width="0.6" stroke-linejoin="miter"/>
<circle cx="594.3" cy="477.6" r="7.6" fill="#fff" stroke="#333" stroke-width="1.1"/>
<path d="M590.6,481.4 L592.0,481.4 C593.6,481.4 594.1,480.8 594.1,479.6 L594.1,476.0 C594.1,474.8 594.6,474.2 596.2,474.2 L597.8,474.2" stroke="#111" stroke-width="1.25" fill="none" />
<text x="573.5" y="436" font-family='"Liberation Serif", serif' font-size="13.4" font-weight="normal" font-style="italic" fill="#111" stroke="#111" text-anchor="middle" style="stroke-width:0.15px">Gate</text>
<path d="M109.4,289.5 L92,362 L109.6,463.5" stroke="#111" stroke-width="1.6" fill="none" stroke-dasharray="4.5 4.5" />
<line x1="81.8" y1="497.6" x2="194" y2="481" stroke="#111" stroke-width="1.6" stroke-dasharray="4.5 4.5"/>
<line x1="95.5" y1="571" x2="127" y2="567.6" stroke="#111" stroke-width="1.6" stroke-dasharray="4.5 4.5"/>
<line x1="320.6" y1="560" x2="355.5" y2="578" stroke="#111" stroke-width="1.6" stroke-dasharray="4.5 4.5"/>
</svg></body></html>
